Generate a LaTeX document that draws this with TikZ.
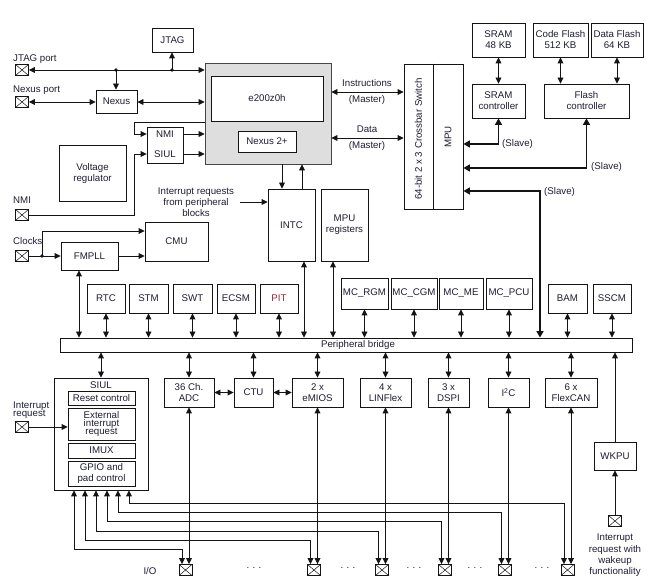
\documentclass[tikz,border=0pt]{standalone}
\usepackage{fontspec}
\setmainfont{Liberation Sans}
\usetikzlibrary{arrows.meta}
\definecolor{txt}{RGB}{30,30,50}
\definecolor{ln}{RGB}{20,20,20}
\definecolor{corefill}{RGB}{222,222,222}
\definecolor{pitred}{RGB}{150,40,60}
\newcommand\fs{\fontsize{9.7}{11}\selectfont}
\newcommand\fst{\fontsize{9.7}{8.3}\selectfont}
\tikzset{
  box/.style={draw=ln, line width=0.85pt, fill=white, inner sep=1pt, align=center, text=txt, font=\fs},
  lbl/.style={inner sep=0pt, text=txt, font=\fs, align=center},
  conn/.style={draw=ln, line width=0.85pt},
  a1/.style={conn, -{Triangle[length=6pt,width=5.8pt]}},
  a2/.style={conn, {Triangle[length=6pt,width=5.8pt]}-{Triangle[length=6pt,width=5.8pt]}},
  b2/.style={draw=ln, line width=1.5pt, {Triangle[length=6.5pt,width=7pt]}-{Triangle[length=6.5pt,width=7pt]}},
  pinbox/.style={draw=ln, line width=0.7pt, fill=white, minimum width=13pt, minimum height=11pt, inner sep=0pt,
    path picture={\draw[line width=0.5pt] (path picture bounding box.north west)--(path picture bounding box.south east)
      (path picture bounding box.south west)--(path picture bounding box.north east);}},
  jdot/.style={circle, fill=ln, inner sep=0pt, minimum size=3.8pt},
}
\newcommand\bx[6]{\node[box,minimum width={#4pt-#2pt},minimum height={#5pt-#3pt}] (#1) at ({(#2+#4)/2},{(#3+#5)/2}) {#6};}
\newcommand\pin[3]{\node[pinbox] (#1) at (#2,#3) {};}
\begin{document}
\begin{tikzpicture}[x=1pt,y=-1pt]
\useasboundingbox (0,0) rectangle (657,585);
% ---------- core area ----------
\bx{jtag}{152}{28}{193}{52}{JTAG}
\node[lbl,anchor=west] (jpl) at (13,59) {JTAG port};
\pin{jp}{22}{70}
\node[lbl,anchor=west] (npl) at (13,90) {Nexus port};
\pin{np}{22}{102}
\bx{nexus}{96}{90}{137}{113}{Nexus}
\node[draw=gray!55!black, fill=corefill, line width=0.9pt, minimum width=126pt, minimum height=101pt, inner sep=0pt] (core) at (268,113.5) {};
\bx{e200}{211}{76}{323}{121}{e200z0h}
\bx{nex2}{238}{131}{296}{152}{Nexus 2+}
\bx{nmisiul}{147}{127}{183}{163}{}
\node[lbl] (nmit) at (165,134) {NMI};
\node[lbl] (siult) at (165,154) {SIUL};
\bx{vreg}{59}{145}{126}{201}{Voltage\\regulator}
\node[lbl,anchor=west] (nmil) at (13,200) {NMI};
\pin{nmip}{22}{215}
\bx{intc}{268}{189}{315}{261}{INTC}
\bx{mpureg}{321}{189}{368}{261}{MPU\\registers}
\node[lbl] (irq) at (196,202) {Interrupt requests\\from peripheral\\blocks};
\node[lbl,anchor=west] (clkl) at (13,241) {Clocks};
\pin{clk}{22}{256}
\bx{fmpll}{61}{242}{118}{270}{FMPLL}
\bx{cmu}{145}{222}{208}{261}{CMU}
% ---------- crossbar and memories ----------
\bx{xbar}{404}{64}{463}{209}{}
\coordinate (xdiv) at (433,0);
\draw[conn] (xbar.north -| xdiv) -- (xbar.south -| xdiv);
\node[lbl,rotate=90] (xbt) at (418.5,139) {64-bit 2 x 3 Crossbar Switch};
\node[lbl,rotate=90] (mpu) at (448,137) {MPU};
\node[lbl] (instl) at (367,83) {Instructions};
\node[lbl] (instm) at (367,100) {(Master)};
\node[lbl] (datal) at (367,129) {Data};
\node[lbl] (datam) at (367,146) {(Master)};
\bx{sram}{472}{23}{525}{57}{SRAM\\48 KB}
\bx{cflash}{533}{23}{588}{57}{Code Flash\\512 KB}
\bx{dflash}{591}{23}{643}{57}{Data Flash\\64 KB}
\bx{sramc}{472}{84}{525}{118}{SRAM\\controller}
\bx{flashc}{544}{84}{629}{118}{Flash\\controller}
\node[lbl,anchor=west] (sl1) at (502,144) {(Slave)};
\node[lbl,anchor=west] (sl2) at (591,167) {(Slave)};
\node[lbl,anchor=west] (sl3) at (544,192) {(Slave)};
% ---------- peripheral bridge ----------
\bx{bridge}{60}{338}{632}{352}{}
\node[lbl] (brt) at (358,345) {Peripheral bridge};
\bx{rtc}{87}{284}{125}{313}{RTC}
\bx{stm}{129}{284}{168}{313}{STM}
\bx{swt}{173}{284}{212}{313}{SWT}
\bx{ecsm}{217}{284}{255}{313}{ECSM}
\node[box,text=pitred,minimum width=38pt,minimum height=29pt] (pit) at (279,298.5) {PIT};
\bx{mcrgm}{341}{278}{388}{309}{MC\_RGM}
\bx{mccgm}{391}{278}{437}{309}{MC\_CGM}
\bx{mcme}{439}{278}{483}{309}{MC\_ME}
\bx{mcpcu}{486}{278}{532}{309}{MC\_PCU}
\bx{bam}{548}{284}{587}{313}{BAM}
\bx{sscm}{593}{284}{631}{313}{SSCM}
% ---------- lower peripherals ----------
\bx{siul}{54}{378}{148}{490}{}
\node[lbl] (siult2) at (101,385) {SIUL};
\bx{rst}{68}{391}{135}{405}{Reset control}
\node[box,font=\fst,minimum width=67pt,minimum height=32pt] (ext) at (101.5,424) {External\\interrupt\\request};
\bx{imux}{68}{443}{135}{458}{IMUX}
\bx{gpio}{68}{461}{135}{486}{GPIO and\\pad control}
\node[lbl,anchor=west,font=\fst,align=left] (irql) at (13,410.5) {Interrupt\\request};
\pin{irqp}{22}{427}
\bx{adc}{164}{378}{214}{407}{36 Ch.\\ADC}
\bx{ctu}{234}{378}{273}{407}{CTU}
\bx{emios}{292}{378}{343}{407}{2 x\\eMIOS}
\bx{linflex}{360}{378}{411}{407}{4 x\\LINFlex}
\bx{dspi}{428}{378}{469}{407}{3 x\\DSPI}
\bx{iic}{488}{378}{529}{407}{I\textsuperscript{2}C}
\bx{flexcan}{545}{378}{597}{407}{6 x\\FlexCAN}
\bx{wkpu}{594}{442}{636}{470}{WKPU}
\pin{wkp}{615}{521}
\node[lbl,font=\fontsize{9.7}{11.4}\selectfont] (wkl) at (615,555.5) {Interrupt\\request with\\wakeup\\functionality};
% bottom pins
\path (adc.south |- 0,570) ++(-3.5,0) node[pinbox] (p1) {};
\path (emios.south |- 0,570) ++(-3.5,0) node[pinbox] (p2) {};
\path (linflex.south |- 0,570) ++(-3.5,0) node[pinbox] (p3) {};
\path (dspi.south |- 0,570) ++(-3.5,0) node[pinbox] (p4) {};
\path (iic.south |- 0,570) ++(-3.5,0) node[pinbox] (p5) {};
\path (flexcan.south |- 0,570) ++(-3.5,0) node[pinbox] (p6) {};
\node[lbl] (iol) at (150,571) {I/O};
\foreach \dx [count=\i] in {254,348,414,475,542} \node[lbl] (dots\i) at (\dx,568) {.\,\,.\,\,.};
% ---------- connectors: top ----------
\coordinate (j1) at (116,70);
\coordinate (j2) at (172,70);
\draw[a2] (jp.east) -- (jp.east -| core.west);
\node[jdot] at (j1) {};
\node[jdot] at (j2) {};
\draw[a1] (j2) -- (j2 |- jtag.south);
\draw[a1] (j1) -- (j1 |- nexus.north);
\draw[a2] (np.east) -- (np.east -| nexus.west);
\draw[a2] (nexus.east |- np) -- (core.west |- np);
\draw[a1] (nmisiul.east |- nmit) -- (core.west |- nmit);
\draw[a1] (nmisiul.east |- siult) -- (core.west |- siult);
\coordinate (fb) at (134,122);
\draw[a1] (core.west |- fb) -- (fb) |- (nmisiul.west |- nmit);
\draw[a1] (nmip.east) -- (fb |- nmip) |- (nmisiul.west |- siult);
\coordinate (ci1) at (282,0);
\coordinate (ci2) at (302,0);
\draw[a1] (core.south -| ci1) -- (intc.north -| ci1);
\draw[a1] (intc.north -| ci2) -- (core.south -| ci2);
\draw[a1] ([xshift=6pt]irq.east) -- (irq.east -| intc.west);
\coordinate (cd) at (42,256);
\draw[conn] (clk.east) -- (cd);
\node[jdot] at (cd) {};
\draw[a1] (cd) -- (fmpll.west |- cd);
\draw[a1] (cd) |- ([yshift=10.5pt]cmu.west);
\draw[a1] (fmpll.east) -- (fmpll.east -| cmu.west);
\coordinate (x79) at (79,0);
\draw[a2] (fmpll.south -| x79) -- (bridge.north -| x79);
% crossbar
\coordinate (yi) at (0,92);
\coordinate (yd) at (0,138);
\draw[a2] (core.east |- yi) -- (xbar.west |- yi);
\draw[a2] (core.east |- yd) -- (xbar.west |- yd);
\draw[a2] (sram.south) -- (sramc.north);
\draw[a2] (cflash.south) -- (cflash.south |- flashc.north);
\draw[a2] (dflash.south) -- (dflash.south |- flashc.north);
\coordinate (ys1) at (0,144);
\coordinate (ys2) at (0,168);
\coordinate (ys3) at (0,191);
\coordinate (x540) at (540,0);
\draw[b2] (sramc.south) |- (xbar.east |- ys1);
\draw[b2] (flashc.south) |- (xbar.east |- ys2);
\draw[b2] (bridge.north -| x540) |- (xbar.east |- ys3);
% peripheral bridge upper
\foreach \n in {rtc,stm,swt,ecsm,pit,mcrgm,mccgm,mcme,mcpcu,bam,sscm}
  \draw[a2] (\n.south) -- (\n.south |- bridge.north);
\coordinate (x304) at (304,0);
\coordinate (x333) at (333,0);
\draw[a2] (intc.south -| x304) -- (bridge.north -| x304);
\draw[a2] (mpureg.south -| x333) -- (bridge.north -| x333);
% lower
\foreach \n in {siul,adc,ctu,emios,linflex,dspi,iic,flexcan}
  \draw[a2] (\n.north) -- (\n.north |- bridge.south);
\draw[a2] (adc.east) -- (ctu.west);
\draw[a2] (ctu.east) -- (emios.west);
\draw[a1] (wkpu.north) -- (wkpu.north |- bridge.south);
\draw[a1] (wkp.north) -- (wkpu.south);
\draw[a1] (irqp.east) -- (irqp.east -| ext.west);
% peripherals to pins
\draw[a2] (adc.south) -- (adc.south |- p1.north);
\draw[a2] (emios.south) -- (emios.south |- p2.north);
\draw[a2] (linflex.south) -- (linflex.south |- p3.north);
\draw[a2] (dspi.south) -- (dspi.south |- p4.north);
\draw[a2] (iic.south) -- (iic.south |- p5.north);
\draw[a2] (flexcan.south) -- (flexcan.south |- p6.north);
% SIUL to pins
\coordinate (s1) at (74,549);
\coordinate (s2) at (85,540);
\coordinate (s3) at (96,531);
\coordinate (s4) at (107,521);
\coordinate (s5) at (118,512);
\coordinate (s6) at (129,503);
\foreach \i in {1,...,6}
  \draw[a2] (siul.south -| s\i) -- (s\i) -| ([xshift=-3.5pt]p\i.north);
\end{tikzpicture}
\end{document}
